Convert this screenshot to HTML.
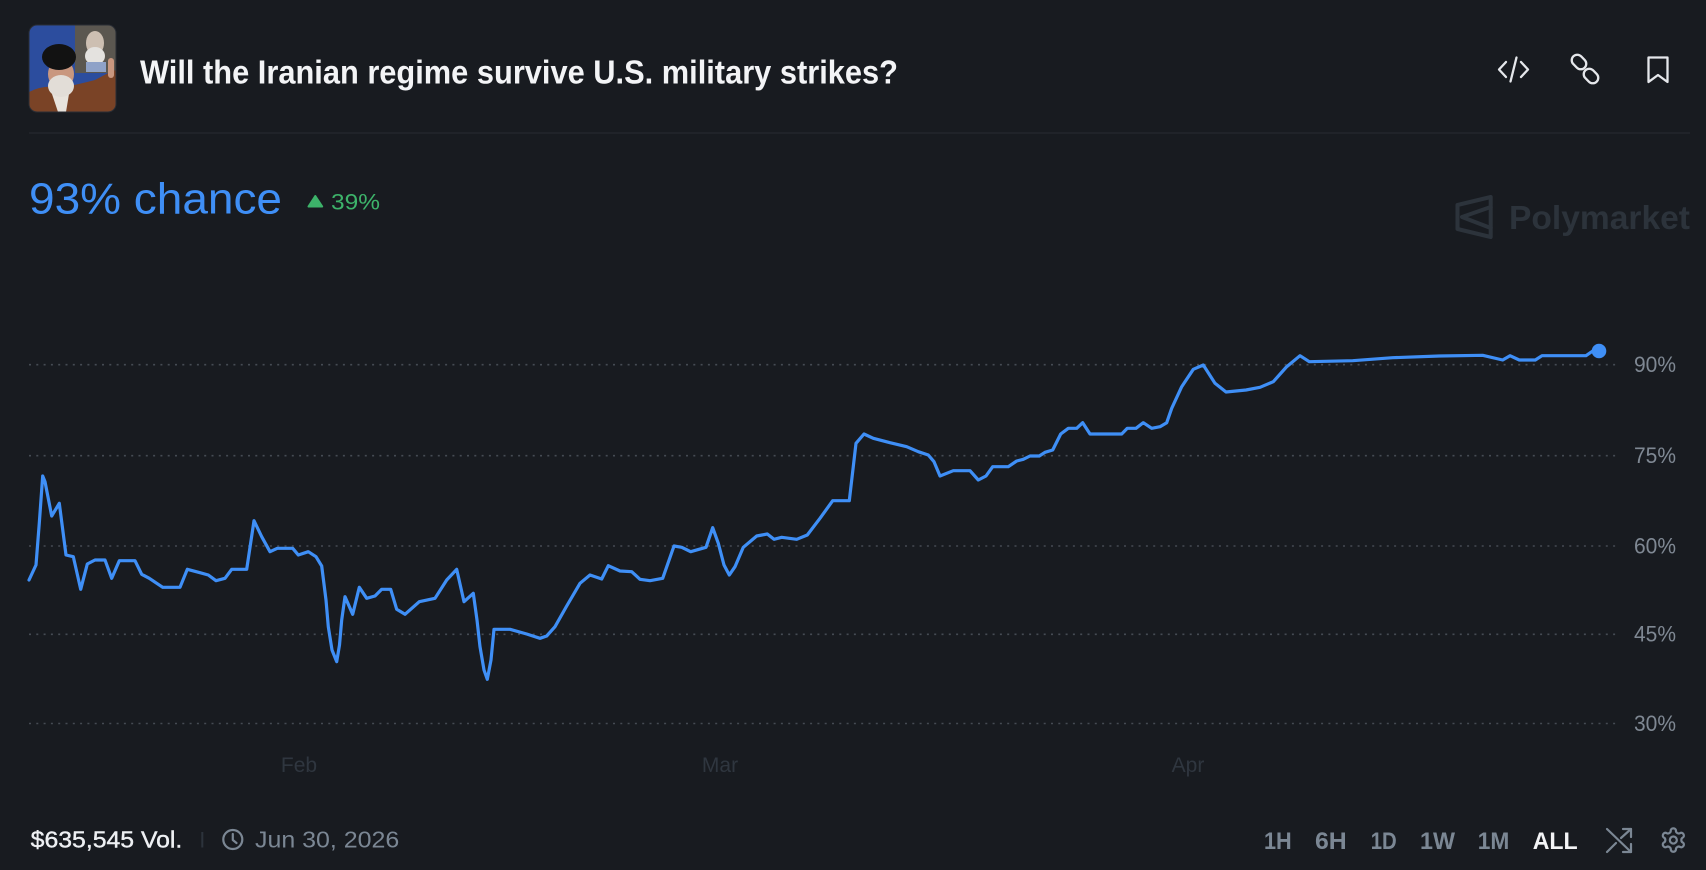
<!DOCTYPE html>
<html>
<head>
<meta charset="utf-8">
<style>
html,body{margin:0;padding:0;background:#181b20;}
body{width:1706px;height:870px;overflow:hidden;}
svg{display:block;}
text{font-family:"Liberation Sans",sans-serif;}
</style>
</head>
<body>
<svg width="1706" height="870" viewBox="0 0 1706 870" xmlns="http://www.w3.org/2000/svg">
  <rect x="0" y="0" width="1706" height="870" fill="#181b20"/>

  <!-- Avatar -->
  <defs>
    <clipPath id="av"><rect x="29" y="25" width="87" height="87" rx="8"/></clipPath>
  </defs>
  <g clip-path="url(#av)">
    <rect x="29" y="25" width="87" height="87" fill="#2c4d9e"/>
    <rect x="75" y="25" width="41" height="48" fill="#5b5750"/>
    <ellipse cx="95" cy="43" rx="9" ry="12" fill="#cdbfb2"/>
    <ellipse cx="95" cy="56" rx="10" ry="9" fill="#e4e2df"/>
    <rect x="86" y="62" width="20" height="10" fill="#8fa2c8"/>
    <path d="M29,92 Q45,84 60,88 Q80,84 95,80 L110,72 L116,70 L116,112 L29,112 Z" fill="#7a4326"/>
    <path d="M50,88 L58,112 L66,112 L70,88 Z" fill="#e8e3dc"/>
    <ellipse cx="61" cy="74" rx="13" ry="15" fill="#c9977f"/>
    <ellipse cx="61" cy="86" rx="13" ry="11" fill="#e2ddd7"/>
    <ellipse cx="59" cy="57" rx="17" ry="13" fill="#121212"/>
    <rect x="108" y="58" width="6" height="20" rx="3" fill="#c9977f"/>
  </g>
  <rect x="29" y="25" width="87" height="87" rx="8" fill="none" stroke="#2a2e35" stroke-width="1"/>

  <!-- Title -->
  <text x="140" y="83.3" font-size="33" font-weight="bold" fill="#f3f4f6" textLength="758" lengthAdjust="spacingAndGlyphs">Will the Iranian regime survive U.S. military strikes?</text>

  <!-- Top-right icons -->
  <g fill="none" stroke="#e5e7eb" stroke-width="2.3" stroke-linecap="round" stroke-linejoin="round">
    <polyline points="1506,62 1499,69.5 1506,77"/>
    <polyline points="1521,62 1528,69.5 1521,77"/>
    <line x1="1516.5" y1="57.5" x2="1510.5" y2="81.5"/>
    <rect x="1571" y="56.5" width="16" height="11" rx="5.5" transform="rotate(45 1579 62)"/>
    <rect x="1583" y="70.5" width="16" height="11" rx="5.5" transform="rotate(45 1591 76)"/>
    <path d="M1648.5,57.5 H1667.5 V82 L1658,75 L1648.5,82 Z"/>
  </g>

  <!-- Separator -->
  <line x1="29" y1="133" x2="1690" y2="133" stroke="#22262c" stroke-width="1.5"/>

  <!-- Chance -->
  <text x="29" y="213.3" font-size="44" fill="#3f8ff6" textLength="253" lengthAdjust="spacingAndGlyphs">93% chance</text>
  <polygon points="315.3,196 308.5,206.5 322.2,206.5" fill="#3db36a" stroke="#3db36a" stroke-width="2" stroke-linejoin="round"/>
  <text x="331" y="209.3" font-size="22" fill="#3db36a" textLength="49" lengthAdjust="spacingAndGlyphs">39%</text>

  <!-- Polymarket watermark -->
  <g fill="none" stroke="#2c333b" stroke-width="4" stroke-linejoin="round" stroke-linecap="round">
    <path d="M1490.7,197 L1457.5,205 L1457.5,229 L1490.7,237 Z"/>
    <path d="M1490.7,207 L1462,217 L1490.7,228"/>
  </g>
  <text x="1509" y="229" font-size="33" font-weight="bold" fill="#2c333b" textLength="181" lengthAdjust="spacingAndGlyphs">Polymarket</text>

  <!-- Grid lines -->
  <g stroke="#454b53" stroke-width="1.6" stroke-dasharray="2 5.3">
    <line x1="29" y1="364.7" x2="1617" y2="364.7"/>
    <line x1="29" y1="455.7" x2="1617" y2="455.7"/>
    <line x1="29" y1="546" x2="1617" y2="546"/>
    <line x1="29" y1="634.3" x2="1617" y2="634.3"/>
    <line x1="29" y1="723.5" x2="1617" y2="723.5"/>
  </g>

  <!-- Y labels -->
  <g font-size="22" fill="#7f8893">
    <text x="1634" y="372" textLength="42" lengthAdjust="spacingAndGlyphs">90%</text>
    <text x="1634" y="463" textLength="42" lengthAdjust="spacingAndGlyphs">75%</text>
    <text x="1634" y="553.3" textLength="42" lengthAdjust="spacingAndGlyphs">60%</text>
    <text x="1634" y="641.6" textLength="42" lengthAdjust="spacingAndGlyphs">45%</text>
    <text x="1634" y="730.8" textLength="42" lengthAdjust="spacingAndGlyphs">30%</text>
  </g>

  <!-- X labels -->
  <g font-size="21" fill="#2f363f" text-anchor="middle">
    <text x="299" y="772">Feb</text>
    <text x="720" y="772">Mar</text>
    <text x="1188" y="772">Apr</text>
  </g>

  <!-- Series -->
  <polyline fill="none" stroke="#3f8ff6" stroke-width="3.2" stroke-linejoin="round" stroke-linecap="round" points="
29,580 36,565 39.3,523 42.7,476 45,481.7 51.7,516 59.3,503.3 66,555 73.3,556.7 80.7,589.3 87.3,564 95,560 105,560 111.7,578.3 119.3,560.7 135,560.7 141.7,574.3 149.3,578.3 162.7,587.3 180,587.3 187.3,569.3 200,572.7 208.3,575 216,580.7 225,578.3 231.7,569.3 246.7,569.3 254,520.7 261.7,536.7 270,551.7 277.3,548.3 292.7,548.3 298.3,555 308.3,551.7 316,556.7 321.7,566 326,600 328.3,626.7 332,650 336.7,661.7 339.5,645 341.7,620 345,596.7 352.7,614.3 359.3,587.3 366.7,598.3 375,596 381.7,589.3 390.7,589.3 396.7,609.3 405,614.3 419.3,601.7 435,598.3 446.7,580 456.7,569.3 464,601.7 473.3,593.3 477,620 480,646.7 484,670 487.3,679.3 491,660 494,629.3 510,629.3 526.7,634 540,638.3 546.7,636 555,626.7 566.7,606 580,583.3 590,575 601.7,579 608.3,565.7 620,571 631.7,571.7 640,579.3 650,580.7 662.7,578.3 674,546 681.7,547.3 690.7,551.7 706,547.3 712.7,527.7 718.3,543.3 724,565 729.3,575 735,566.7 743.3,547.3 756.7,536 767.3,534 774,539.3 781.7,537.3 796.7,539.3 807.3,535 820,518.3 832.7,500.7 849.3,500.7 856,443.3 864,434 873.3,438.3 890,442.7 906.7,446.7 918.3,451.7 928.3,455 934,461.7 940,476 953.3,470.7 970,470.7 978.3,480 986,476 992.7,466.7 1008.3,466.7 1016.7,461 1023.3,459.3 1030,456 1039.3,456 1045,452.3 1052.7,450 1060.7,434 1068.3,428.3 1076.7,428.3 1082.7,422.7 1090,434 1121.7,434 1127.3,428.3 1136,428.3 1143.3,422.7 1151.7,428.3 1160,426.7 1166.7,422.7 1171.7,408.3 1181.7,386.7 1193.3,369.3 1203.3,365 1215,383.3 1226,392 1246,390 1260,387.3 1273.3,381.7 1286.4,367 1300,355.7 1309.3,361.7 1352.7,360.7 1392.7,357.7 1439.3,356 1482.7,355.3 1502.7,360 1510,355.7 1519.3,360 1535.3,360 1542,355.7 1586,355.7 1592.7,351 1599,351"/>
  <circle cx="1599" cy="351" r="7.3" fill="#3f8ff6"/>

  <!-- Bottom left -->
  <text x="30.7" y="847.7" font-size="23" fill="#eef0f3" stroke="#eef0f3" stroke-width="0.4" textLength="151.6" lengthAdjust="spacingAndGlyphs">$635,545 Vol.</text>
  <line x1="202.3" y1="832" x2="202.3" y2="847.5" stroke="#2c333c" stroke-width="2"/>
  <g fill="none" stroke="#7b8794" stroke-width="2.2" stroke-linecap="round" stroke-linejoin="round">
    <circle cx="232.8" cy="839.5" r="9.5"/>
    <polyline points="232.8,834 232.8,840 236.5,843"/>
  </g>
  <text x="255" y="847.7" font-size="23" fill="#7b8794" textLength="144.3" lengthAdjust="spacingAndGlyphs">Jun 30, 2026</text>

  <!-- Bottom right buttons -->
  <g font-size="24" font-weight="bold" fill="#7b8794">
    <text x="1264" y="849" textLength="27.7" lengthAdjust="spacingAndGlyphs">1H</text>
    <text x="1315" y="849" textLength="31.7" lengthAdjust="spacingAndGlyphs">6H</text>
    <text x="1370.7" y="849" textLength="26" lengthAdjust="spacingAndGlyphs">1D</text>
    <text x="1420" y="849" textLength="35" lengthAdjust="spacingAndGlyphs">1W</text>
    <text x="1477.7" y="849" textLength="31.6" lengthAdjust="spacingAndGlyphs">1M</text>
    <text x="1532.7" y="849" textLength="45" lengthAdjust="spacingAndGlyphs" fill="#f3f4f6">ALL</text>
  </g>

  <!-- Shuffle icon -->
  <g fill="none" stroke="#7b8794" stroke-width="2.2" stroke-linecap="round" stroke-linejoin="round">
    <line x1="1607" y1="829" x2="1631" y2="852"/>
    <polyline points="1631,844 1631,852 1623,852"/>
    <line x1="1607" y1="852" x2="1616" y2="843"/>
    <line x1="1621" y1="838" x2="1631" y2="829"/>
    <polyline points="1623,829 1631,829 1631,837"/>
  </g>

  <!-- Gear icon -->
  <g transform="translate(1659.3 826) scale(1.17)" fill="none" stroke="#7b8794" stroke-width="1.9" stroke-linecap="round" stroke-linejoin="round">
    <path d="M12.22 2h-.44a2 2 0 0 0-2 2v.18a2 2 0 0 1-1 1.73l-.43.25a2 2 0 0 1-2 0l-.15-.08a2 2 0 0 0-2.73.73l-.22.38a2 2 0 0 0 .73 2.730l.15.1a2 2 0 0 1 1 1.72v.51a2 2 0 0 1-1 1.74l-.15.09a2 2 0 0 0-.73 2.73l.22.38a2 2 0 0 0 2.73.73l.15-.08a2 2 0 0 1 2 0l.43.25a2 2 0 0 1 1 1.73V20a2 2 0 0 0 2 2h.44a2 2 0 0 0 2-2v-.18a2 2 0 0 1 1-1.73l.43-.25a2 2 0 0 1 2 0l.15.08a2 2 0 0 0 2.73-.73l.22-.39a2 2 0 0 0-.73-2.73l-.15-.08a2 2 0 0 1-1-1.74v-.5a2 2 0 0 1 1-1.74l.15-.09a2 2 0 0 0 .73-2.73l-.22-.38a2 2 0 0 0-2.73-.73l-.15.08a2 2 0 0 1-2 0l-.43-.25a2 2 0 0 1-1-1.730V4a2 2 0 0 0-2-2z"/>
    <circle cx="12" cy="12" r="3"/>
  </g>
</svg>
</body>
</html>
